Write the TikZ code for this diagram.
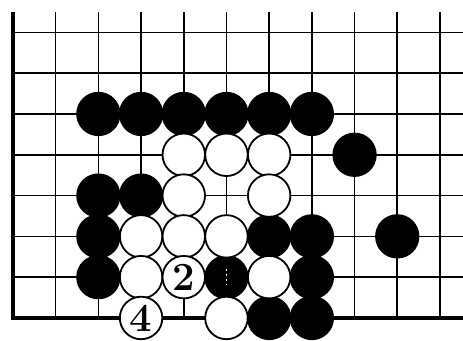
\documentclass[tikz,border=0pt]{standalone}
\usepackage{tikz}
\usetikzlibrary{calc}

\begin{document}
\begin{tikzpicture}[x=42.7pt,y=40.8pt,
  grid/.style={line width=1.6pt},
  edge/.style={line width=3.4pt},
  stone/.style={circle,minimum size=42.5pt,inner sep=0pt,line width=1.8pt,draw=black},
  bl/.style={stone,fill=black},
  wh/.style={stone,fill=white,font=\fontsize{40}{40}\selectfont\bfseries}]
\fill[white] (-0.304,-0.564) rectangle (10.54,7.794);
\useasboundingbox (-0.304,-0.564) rectangle (10.54,7.794);
% board lines
\foreach \c in {1,...,10}{\draw[grid] (\c,0) -- (\c,7.5);}
\foreach \r in {1,...,7}{\draw[grid] (0,\r) -- (10.54,\r);}
\draw[edge] (0,7.5) -- (0,0) -- (10.54,0);
% black stones
\foreach \c/\r [count=\i] in {2/5,3/5,4/5,5/5,6/5,7/5,8/4,2/3,3/3,2/2,6/2,7/2,9/2,2/1,5/1,7/1,6/0,7/0}{
  \node[bl] (b\i) at (\c,\r) {};}
\draw[white,line width=1.8pt,dash pattern=on 1.8pt off 3pt] ($(b15.center)+(0,-0.2)$) -- ($(b15.center)+(0,0.22)$);
% white stones
\foreach \c/\r [count=\i] in {4/4,5/4,6/4,4/3,6/3,3/2,4/2,5/2,3/1,6/1,5/0}{
  \node[wh] (w\i) at (\c,\r) {};}
\node[wh] (m2) at (4,1) {2};
\node[wh] (m4) at (3,0) {4};
\end{tikzpicture}
\end{document}
